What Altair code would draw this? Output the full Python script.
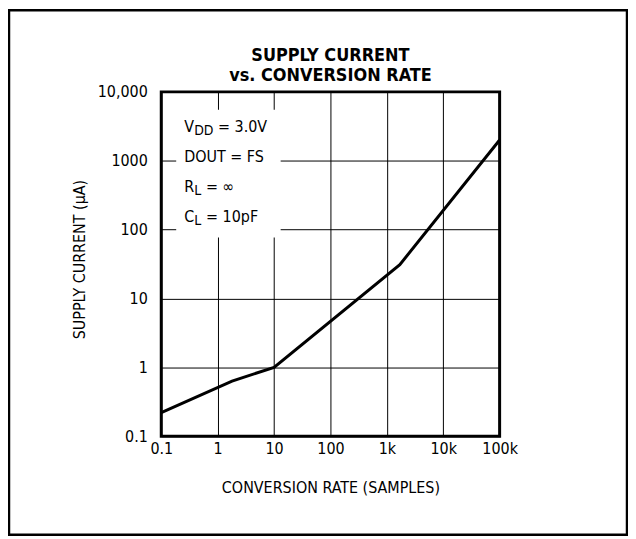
import altair as alt
import pandas as pd

FONT = "'Liberation Sans Narrow', 'DejaVu Sans Condensed', Roboto, sans-serif"

# curve
rate = [0.1, 1.8, 10, 1700, 100000]
current = [0.22, 0.63, 1.0, 31, 2000]

# axis ticks
x_ticks = [0.1, 1, 10, 100, 1000, 10000, 100000]
x_labels = ["0.1", "1", "10", "100", "1k", "10k", "100k"]
y_ticks = [0.1, 1, 10, 100, 1000, 10000]
y_labels = ["0.1", "1", "10", "100", "1000", "10,000"]

# titles
title_lines = ["SUPPLY CURRENT", "vs. CONVERSION RATE"]
x_title = "CONVERSION RATE (SAMPLES)"
y_title = "SUPPLY CURRENT (\u00b5A)"

# annotation block
ann_main = ["V", "DOUT = FS", "R", "C"]
ann_sub = ["DD", "", "L", "L"]
ann_rest = ["= 3.0V", "", "= \u221e", "= 10pF"]
ann_y = [2630, 968, 355, 130]
ann_x = [0.255, 0.255, 0.255, 0.255]

# white box behind the annotation (data coords)
box_x = [0.184, 13.1]
box_y = [5500, 76.5]


def label_expr(vals, labs):
    s = ""
    for v, l in zip(vals, labs):
        s += f"abs(datum.value - {v}) < {v} * 1e-6 ? '{l}' : "
    return s + "''"


xscale = alt.Scale(type="log", domain=[0.1, 100000], nice=False)
yscale = alt.Scale(type="log", domain=[0.1, 10000], nice=False)

curve_df = pd.DataFrame({"rate": rate, "current": current})
ann_df = pd.DataFrame({"rate": ann_x, "current": ann_y, "main": ann_main,
                       "sub": ann_sub, "rest": ann_rest})
box_df = pd.DataFrame({"rate": [box_x[0]], "rate2": [box_x[1]],
                       "current": [box_y[0]], "current2": [box_y[1]]})
title_df = pd.DataFrame({"t1": [title_lines[0]], "t2": [title_lines[1]]})

x_axis = alt.Axis(values=x_ticks, labelExpr=label_expr(x_ticks, x_labels),
                  grid=True, gridColor="black", gridWidth=1, gridOpacity=1,
                  ticks=False, domain=False, labelPadding=4,
                  labelFont=FONT, labelFontSize=16, labelColor="black",
                  labelOverlap=False, labelFlush=False,
                  title=x_title, titleFont=FONT,
                  titleFontSize=16, titleFontWeight="normal", titleColor="black",
                  titleY=57, titleBaseline="alphabetic")
y_axis = alt.Axis(values=y_ticks, labelExpr=label_expr(y_ticks, y_labels),
                  grid=True, gridColor="black", gridWidth=1, gridOpacity=1,
                  ticks=False, domain=False, labelPadding=14,
                  labelFont=FONT, labelFontSize=16, labelColor="black",
                  labelOverlap=False, labelFlush=False,
                  title=y_title, titleFont=FONT,
                  titleFontSize=16, titleFontWeight="normal", titleColor="black",
                  titleX=-82, titleY=168, titleAngle=270, titleAlign="center",
                  titleBaseline="middle")

line = alt.Chart(curve_df).mark_line(color="black", strokeWidth=3).encode(
    x=alt.X("rate:Q", scale=xscale, axis=x_axis),
    y=alt.Y("current:Q", scale=yscale, axis=y_axis),
)

box = alt.Chart(box_df).mark_rect(color="white").encode(
    x=alt.X("rate:Q", scale=xscale),
    x2="rate2:Q",
    y=alt.Y("current:Q", scale=yscale),
    y2="current2:Q",
)

tbase = alt.Chart(ann_df).encode(
    x=alt.X("rate:Q", scale=xscale),
    y=alt.Y("current:Q", scale=yscale),
)
t_main = tbase.mark_text(align="left", baseline="alphabetic", font=FONT,
                         fontSize=16, color="black").encode(text="main:N")
t_sub = tbase.mark_text(align="left", baseline="alphabetic", font=FONT,
                        fontSize=14, color="black", dx=10, dy=3).encode(text="sub:N")
t_rest_v = tbase.transform_filter(alt.datum.sub == "DD").mark_text(
    align="left", baseline="alphabetic", font=FONT, fontSize=16,
    color="black", dx=34).encode(text="rest:N")
t_rest_l = tbase.transform_filter(alt.datum.sub == "L").mark_text(
    align="left", baseline="alphabetic", font=FONT, fontSize=16,
    color="black", dx=22).encode(text="rest:N")

title1 = alt.Chart(title_df).mark_text(
    align="center", baseline="alphabetic", font=FONT, fontSize=18,
    fontWeight="bold", color="black").encode(
    text="t1:N", x=alt.value(170), y=alt.value(-31))
title2 = alt.Chart(title_df).mark_text(
    align="center", baseline="alphabetic", font=FONT, fontSize=18,
    fontWeight="bold", color="black").encode(
    text="t2:N", x=alt.value(170), y=alt.value(-11))

frame = alt.Chart(title_df).mark_rect(filled=False, stroke="black",
                                      strokeWidth=2.5).encode(
    x=alt.value(-153), x2=alt.value(468), y=alt.value(-82), y2=alt.value(445))

chart = alt.layer(line, box, t_main, t_sub, t_rest_v, t_rest_l,
                  title1, title2, frame).properties(
    width=340, height=346,
    autosize=alt.AutoSizeParams(type="none"),
    padding={"left": 154, "top": 83, "right": 129, "bottom": 100},
    background="white",
).configure_view(stroke="black", strokeWidth=3)

chart.save("out.html", embed_options={"renderer": "svg", "actions": False})
